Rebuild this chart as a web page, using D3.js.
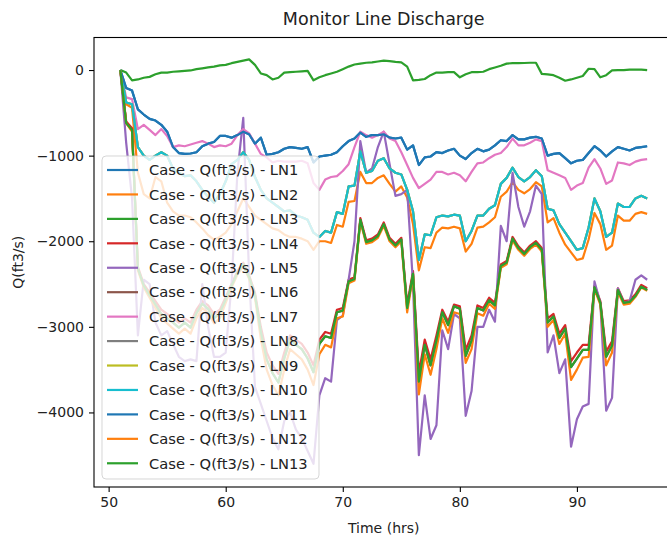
<!DOCTYPE html>
<html><head><meta charset="utf-8">
<script src="https://cdn.jsdelivr.net/npm/d3@7"></script>
<style>body{margin:0;background:#fff}svg{display:block;font-family:"DejaVu Sans",sans-serif}</style>
</head><body><svg id="c" width="667" height="541"></svg>
<script>
const chartTitle = "Monitor Line Discharge";
const xLabel = "Time (hrs)";
const yLabel = "Q(ft3/s)";
const xTicks = [50, 60, 70, 80, 90];
const yTicks = [0, -1000, -2000, -3000, -4000];
const seriesNames = ["LN1","LN2","LN3","LN4","LN5","LN6","LN7","LN8","LN9","LN10","LN11","LN12","LN13"];

const time = [51,51.5,52,52.5,53,53.5,54,54.5,55,55.5,56,56.5,57,57.5,58,58.5,59,59.5,60,60.5,61,61.5,62,62.5,63,63.5,64,64.5,65,65.5,66,66.5,67,67.5,68,68.5,69,69.5,70,70.5,71,71.5,72,72.5,73,73.5,74,74.5,75,75.5,76,76.5,77,77.5,78,78.5,79,79.5,80,80.5,81,81.5,82,82.5,83,83.5,84,84.5,85,85.5,86,86.5,87,87.5,88,88.5,89,89.5,90,90.5,91,91.5,92,92.5,93,93.5,94,94.5,95,95.5,96];

const ln1 = [0,-210,-240,-460,-520,-570,-590,-640,-720,-900,
-970,-980,-975,-960,-890,-860,-840,-770,-770,-790,
-760,-720,-750,-860,-790,-990,-980,-960,-920,-900,
-910,-920,-900,-1080,-1010,-1000,-990,-960,-890,-830,
-800,-730,-780,-760,-760,-750,-790,-800,-790,-930,
-880,-1110,-1020,-1010,-960,-970,-940,-920,-1000,-1040,
-970,-920,-950,-930,-880,-820,-830,-760,-810,-810,
-790,-780,-800,-1000,-980,-970,-1030,-1090,-1060,-1050,
-970,-890,-940,-1010,-950,-900,-920,-940,-910,-900,-890];

const ln2 = [0,-400,-440,-1200,-1450,-1500,-1250,-1300,-1550,-1650,
-1700,-1700,-1720,-1780,-1850,-1930,-1980,-1950,-1900,-1800,
-1650,-1500,-1600,-1700,-1750,-1800,-1850,-1870,-1920,-1950,
-1950,-1970,-2000,-2100,-2000,-2000,-2020,-1810,-1830,-1540,
-1530,-1190,-1320,-1320,-1260,-1230,-1330,-1420,-1360,-1490,
-1800,-2340,-2070,-2080,-1900,-1840,-1850,-1830,-1850,-2120,
-2030,-1840,-1830,-1780,-1720,-1480,-1420,-1310,-1400,-1440,
-1390,-1310,-1360,-1780,-1730,-1900,-2040,-2130,-2220,-2200,
-1980,-1670,-1800,-2100,-2050,-1700,-1760,-1760,-1680,-1660,-1680];

const ln3 = [0,-30,-120,-110,-90,-80,-50,-30,-30,-20,
-15,-10,-5,10,20,30,40,55,60,80,
95,110,125,60,-40,-60,-110,-90,-30,-25,
-20,-15,-10,-120,-85,-60,-40,-20,10,40,
65,75,85,90,100,110,105,95,90,40,
-120,-115,-105,-60,-30,-30,-25,-25,-85,-50,
-25,-25,-20,10,30,50,75,80,80,82,
85,85,-45,-50,-60,-90,-125,-110,-90,-70,
15,10,-85,-60,-5,0,0,5,5,5,0];

const ln4 = [0,-600,-680,-2300,-2500,-2600,-2700,-2800,-2850,-2900,
-2950,-2900,-2950,-2800,-2700,-2750,-2850,-2800,-2650,-2500,
-2350,-2250,-2400,-2600,-3000,-3300,-3450,-3550,-3300,-3100,
-3150,-3200,-3300,-3450,-3150,-3060,-3080,-2800,-2780,-2450,
-2420,-1730,-1990,-1970,-1920,-1780,-1960,-2030,-1960,-2740,
-2350,-3540,-3150,-3380,-3100,-2800,-2940,-2740,-2760,-3270,
-3100,-2750,-2780,-2660,-2720,-2270,-2230,-1950,-2060,-2130,
-2050,-2000,-2080,-2900,-2850,-3080,-2980,-3400,-3300,-3210,
-3210,-2520,-2700,-3290,-3170,-2550,-2700,-2690,-2620,-2510,-2550];

const ln5 = [0,-850,-1500,-3100,-2450,-2500,-2950,-3100,-3050,-3200,
-3350,-3400,-3380,-3400,-2500,-3000,-3350,-3350,-3300,-2500,
-1200,-560,-2400,-3700,-3900,-4100,-4300,-4430,-4100,-4000,
-4200,-4300,-4450,-4600,-3800,-3600,-3640,-2920,-2870,-2450,
-2000,-830,-1200,-1150,-900,-720,-1100,-1470,-1450,-1400,
-2500,-4500,-3800,-4310,-4150,-3040,-3260,-2850,-2900,-4040,
-3750,-3000,-3000,-2800,-2940,-1820,-2000,-1200,-1600,-1830,
-1650,-1350,-1450,-3300,-3100,-3540,-3380,-4400,-4080,-3930,
-3900,-2470,-2720,-3980,-3830,-2550,-2720,-2700,-2450,-2400,-2450];

const ln7 = [0,-320,-340,-690,-640,-700,-760,-690,-770,-900,
-880,-890,-870,-850,-830,-860,-900,-880,-890,-860,
-760,-690,-740,-860,-980,-1020,-1080,-1060,-1070,-1070,
-1070,-1060,-1090,-1320,-1400,-1280,-1250,-1240,-1180,-1100,
-900,-720,-760,-790,-760,-720,-800,-830,-960,-1110,
-1260,-1380,-1330,-1280,-1190,-1190,-1220,-1200,-1230,-1300,
-1190,-1090,-1080,-1030,-990,-970,-900,-800,-880,-880,
-850,-810,-830,-1170,-1200,-1230,-1260,-1400,-1350,-1320,
-1140,-1040,-1150,-1330,-1290,-1080,-1090,-1110,-1070,-1050,-1040];

const ln10 = [0,-380,-400,-900,-1000,-1050,-1000,-960,-1000,-1150,
-1200,-1240,-1230,-1300,-1400,-1480,-1550,-1450,-1300,-1100,
-1050,-960,-1050,-1250,-1400,-1500,-1550,-1600,-1650,-1640,
-1700,-1720,-1750,-1900,-1950,-1880,-1900,-1660,-1680,-1360,
-1350,-950,-1200,-1180,-1060,-1030,-1150,-1200,-1220,-1400,
-1650,-2220,-1920,-1930,-1720,-1700,-1710,-1690,-1700,-2000,
-1880,-1700,-1700,-1620,-1580,-1330,-1260,-1140,-1250,-1300,
-1250,-1170,-1240,-1620,-1640,-1800,-1900,-2000,-2100,-2080,
-1840,-1500,-1650,-1950,-1900,-1560,-1600,-1600,-1500,-1470,-1500];

const ln12 = [0,-620,-720,-2340,-2540,-2660,-2780,-2900,-2960,-3020,
-3080,-3020,-3080,-2900,-2780,-2840,-2960,-2900,-2720,-2540,
-2390,-2290,-2440,-2660,-3140,-3500,-3680,-3800,-3500,-3260,
-3320,-3380,-3500,-3680,-3320,-3210,-3240,-2900,-2880,-2490,
-2460,-1770,-2030,-2010,-1960,-1820,-2000,-2070,-2000,-2830,
-2400,-3790,-3320,-3560,-3260,-2900,-3070,-2830,-2850,-3420,
-3260,-2840,-2870,-2730,-2790,-2310,-2270,-1990,-2100,-2170,
-2090,-2040,-2120,-3000,-2920,-3200,-3080,-3620,-3500,-3360,
-3350,-2560,-2740,-3450,-3300,-2590,-2740,-2730,-2650,-2540,-2580];

const ln13 = [0,-620,-700,-2320,-2520,-2630,-2740,-2850,-2900,-2950,
-3010,-2950,-3010,-2840,-2730,-2790,-2900,-2840,-2680,-2520,
-2370,-2270,-2420,-2630,-3060,-3380,-3540,-3650,-3370,-3150,
-3210,-3260,-3370,-3530,-3200,-3110,-3130,-2830,-2810,-2470,
-2440,-1750,-2010,-1990,-1940,-1800,-1980,-2050,-1980,-2780,
-2380,-3640,-3210,-3450,-3160,-2830,-2980,-2760,-2790,-3340,
-3160,-2780,-2810,-2690,-2750,-2290,-2250,-1970,-2080,-2150,
-2070,-2020,-2100,-2950,-2880,-3130,-3020,-3470,-3370,-3270,
-3270,-2540,-2720,-3350,-3220,-2570,-2720,-2710,-2640,-2530,-2570];

// LN6, LN8, LN9, LN11 coincide with lines drawn after them in the picture
const ln6 = ln13;
const ln8 = ln10;
const ln9 = ln10;
const ln11 = ln1;

const seriesValues = [ln1, ln2, ln3, ln4, ln5, ln6, ln7, ln8, ln9, ln10, ln11, ln12, ln13];
const colors = ["#1f77b4","#ff7f0e","#2ca02c","#d62728","#9467bd","#8c564b","#e377c2","#7f7f7f","#bcbd22","#17becf"];

const svg = d3.select("#c");
const L = 94, T = 37.5, R = 673.5, B = 487;
const x = d3.scaleLinear().domain([48.75, 98.25]).range([L, R]);
const y = d3.scaleLinear().domain([-4871, 380]).range([B, T]);

svg.append("defs").append("clipPath").attr("id","clip")
  .append("rect").attr("x", L).attr("y", T).attr("width", R - L).attr("height", B - T);

const line = d3.line().x((d, i) => x(time[i])).y(d => y(d));
const plot = svg.append("g").attr("clip-path","url(#clip)");
seriesValues.forEach((vals, k) => {
  plot.append("path").datum(vals)
    .attr("d", line).attr("fill","none")
    .attr("stroke", colors[k % 10]).attr("stroke-width", 2.2)
    .attr("stroke-linejoin","round");
});

// frame
svg.append("rect").attr("x", L).attr("y", T).attr("width", R - L).attr("height", B - T)
  .attr("fill","none").attr("stroke","#000").attr("stroke-width",1.1);

const fmt = d => (d < 0 ? "\u2212" + Math.abs(d) : String(d));
const xAxis = svg.append("g").attr("transform", `translate(0,${B})`)
  .call(d3.axisBottom(x).tickValues(xTicks).tickSize(5).tickPadding(5).tickSizeOuter(0).tickFormat(fmt));
const yAxis = svg.append("g").attr("transform", `translate(${L},0)`)
  .call(d3.axisLeft(y).tickValues(yTicks).tickSize(5).tickPadding(5).tickSizeOuter(0).tickFormat(fmt));
[xAxis, yAxis].forEach(g => {
  g.select(".domain").remove();
  g.selectAll("line").attr("stroke","#000").attr("stroke-width",1.1);
  g.selectAll("text").attr("fill","#222").style("font-size","14px").style("font-family","DejaVu Sans");
});

svg.append("text").attr("x", (L + R) / 2).attr("y", 25).attr("text-anchor","middle")
  .style("font-size","17.5px").attr("fill","#222").text(chartTitle);
svg.append("text").attr("x", (L + R) / 2).attr("y", 533).attr("text-anchor","middle")
  .style("font-size","14px").attr("fill","#222").text(xLabel);
svg.append("text").attr("transform", `translate(23,${(T + B) / 2}) rotate(-90)`).attr("text-anchor","middle")
  .style("font-size","14px").attr("fill","#222").text(yLabel);

// legend
const lg = svg.append("g");
lg.append("rect").attr("x", 102).attr("y", 156).attr("width", 217).attr("height", 323).attr("rx", 4)
  .attr("fill","#fff").attr("fill-opacity",0.8).attr("stroke","#ccc").attr("stroke-opacity",0.8);
seriesNames.forEach((n, k) => {
  const cy = 170 + k * 24.44;
  lg.append("line").attr("x1",107).attr("x2",138).attr("y1",cy).attr("y2",cy)
    .attr("stroke", colors[k % 10]).attr("stroke-width",2.2);
  lg.append("text").attr("x",149).attr("y",cy).attr("dy","0.36em")
    .style("font-size","14.7px").attr("fill","#222").text("Case - Q(ft3/s) - " + n);
});
</script></body></html>
